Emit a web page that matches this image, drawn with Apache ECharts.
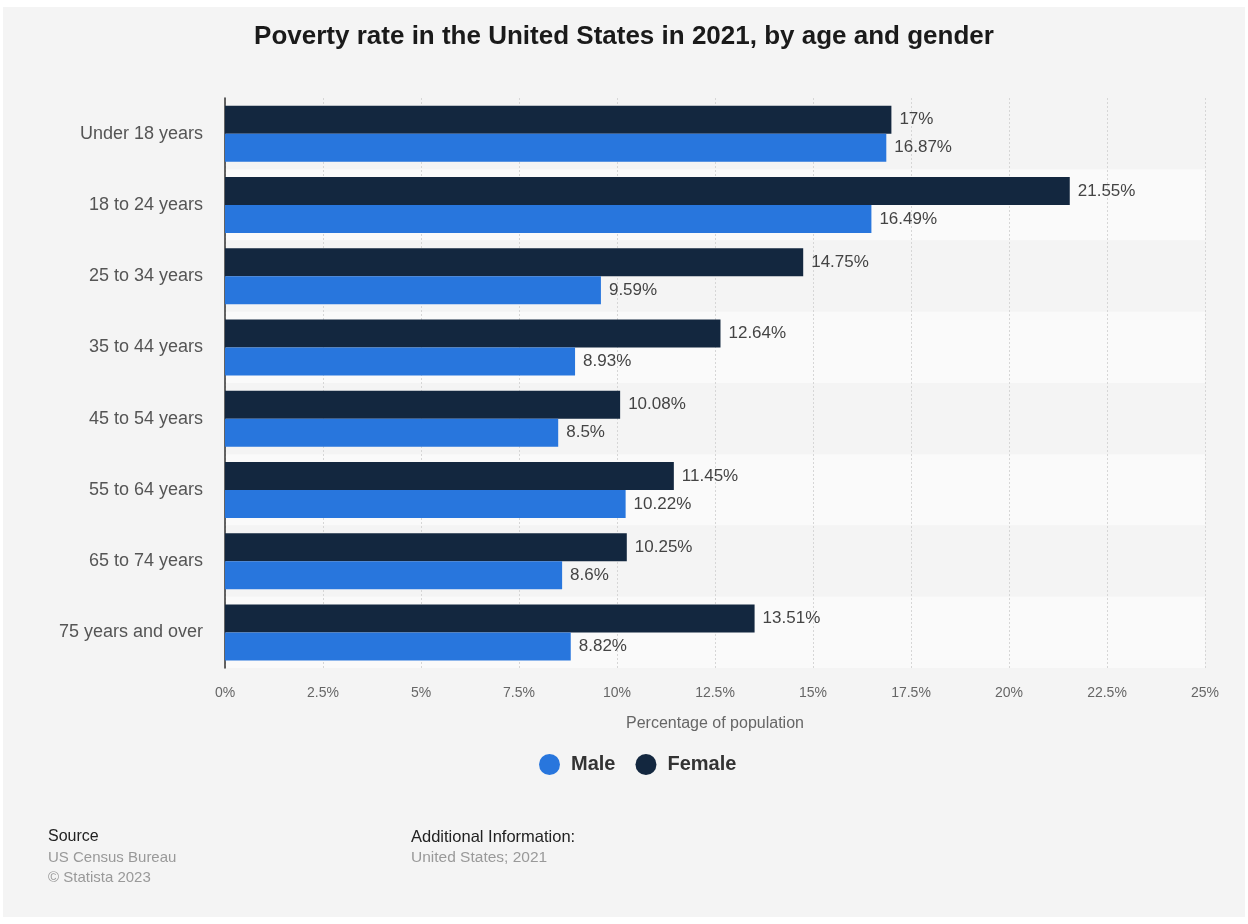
<!DOCTYPE html>
<html><head><meta charset="utf-8">
<script src="https://cdn.jsdelivr.net/npm/echarts@6/dist/echarts.min.js"></script>
<style>
html,body{margin:0;padding:0;background:#fff;}
#c{position:absolute;left:3px;top:7px;width:1242px;height:910px;background:#f4f4f4;}
</style></head>
<body><div id="c"></div>
<script>
const categories = ["Under 18 years","18 to 24 years","25 to 34 years","35 to 44 years","45 to 54 years","55 to 64 years","65 to 74 years","75 years and over"];
const male = [16.87,16.49,9.59,8.93,8.5,10.22,8.6,8.82];
const female = [17,21.55,14.75,12.64,10.08,11.45,10.25,13.51];
const seriesNames = ["Male","Female"];
const titleText = "Poverty rate in the United States in 2021, by age and gender";
const axisName = "Percentage of population";

const chart = echarts.init(document.getElementById('c'), null, {renderer:'canvas'});
const font = '"Liberation Sans", Arial, sans-serif';
const lbl = {show:true,position:'right',distance:8,formatter:p=>p.value+'%',fontFamily:font,fontSize:17,color:'#444'};
chart.setOption({
  backgroundColor:'#f4f4f4',
  animation:false,
  title:{text:titleText,left:'center',top:12,textStyle:{fontFamily:font,fontSize:26,fontWeight:'bold',color:'#1a1a1a'}},
  legend:{data:seriesNames,bottom:137,left:531,icon:'circle',itemWidth:21,itemHeight:21,itemGap:20,
    textStyle:{fontFamily:font,fontSize:20,fontWeight:'bold',color:'#333',padding:[0,0,0,6]}},
  grid:{left:222,right:40,top:91,bottom:249,containLabel:false},
  xAxis:{type:'value',min:0,max:25,interval:2.5,
    name:axisName,nameLocation:'middle',nameGap:48,nameTextStyle:{fontFamily:font,fontSize:16,color:'#666'},
    axisLine:{show:false},axisTick:{show:false},
    axisLabel:{formatter:v=>v+'%',fontFamily:font,fontSize:14,color:'#666',margin:18},
    splitLine:{show:true,lineStyle:{color:'#d6d6d6',type:[2,2]}}},
  yAxis:{type:'category',data:categories,inverse:true,
    axisLine:{show:true,lineStyle:{color:'#333',width:1.5}},axisTick:{show:false},
    axisLabel:{fontFamily:font,fontSize:18,color:'#555',margin:22},
    splitArea:{show:true,areaStyle:{color:['#f4f4f4','#fafafa']}}},
  series:[
    {name:'Female',type:'bar',data:female,barWidth:28,barGap:'0%',itemStyle:{color:'#13273f'},label:lbl},
    {name:'Male',type:'bar',data:male,barWidth:28,barGap:'0%',itemStyle:{color:'#2876dd'},label:lbl}
  ],
  graphic:[
    {type:'text',left:45,top:822,style:{text:'Source',font:'16px '+font,fill:'#222'}},
    {type:'text',left:45,top:843,style:{text:'US Census Bureau',font:'15px '+font,fill:'#999'}},
    {type:'text',left:45,top:863,style:{text:'© Statista 2023',font:'15px '+font,fill:'#999'}},
    {type:'text',left:408,top:822,style:{text:'Additional Information:',font:'16.5px '+font,fill:'#222'}},
    {type:'text',left:408,top:843,style:{text:'United States; 2021',font:'15.5px '+font,fill:'#999'}}
  ]
});
</script></body></html>
